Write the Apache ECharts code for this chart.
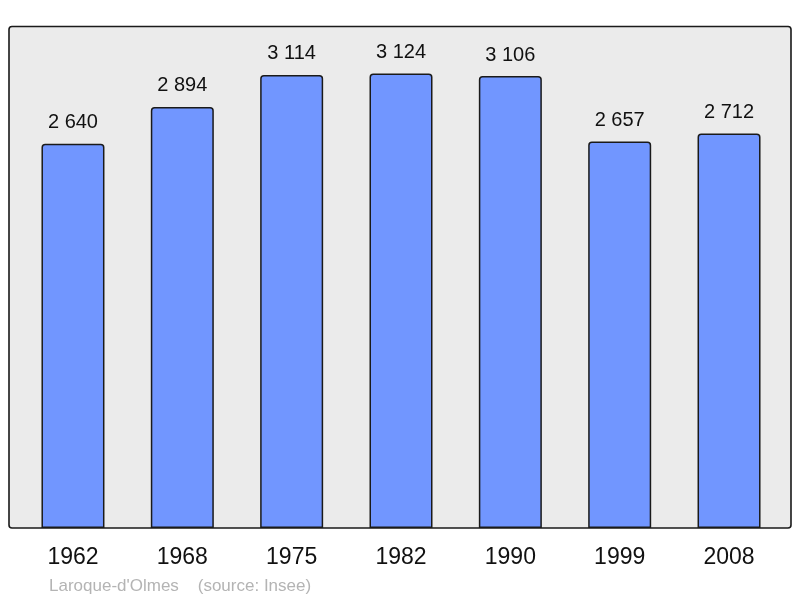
<!DOCTYPE html>
<html><head><meta charset="utf-8">
<script src="https://cdn.jsdelivr.net/npm/echarts@6/dist/echarts.min.js"></script>
<style>html,body{margin:0;padding:0;background:#fff}#c{width:800px;height:598px}</style>
</head><body><div id="c"></div>
<script>
const years = ['1962','1968','1975','1982','1990','1999','2008'];
const population = [2640, 2894, 3114, 3124, 3106, 2657, 2712];
const footer = "Laroque-d'Olmes    (source: Insee)";

const chart = echarts.init(document.getElementById('c'), null, {renderer:'canvas'});
chart.setOption({
  animation: false,
  backgroundColor: '#ffffff',
  graphic: [
    {type:'rect', z:-10, shape:{x:9, y:26.5, width:782, height:501.5, r:3},
     style:{fill:'#ebebeb', stroke:'#1a1a1a', lineWidth:1.6}},
    {type:'text', left:49, top:577.5, style:{text:footer, font:'17px "Liberation Sans", Arial, sans-serif', fill:'#b4b4b4'}}
  ],
  grid: {left:18.3, right:16.3, top:26, bottom:70},
  xAxis: {type:'category', data:years,
    axisLine:{show:false}, axisTick:{show:false},
    axisLabel:{fontSize:23, fontFamily:'"Liberation Sans", Arial, sans-serif', color:'#111', margin:18}},
  yAxis: {type:'value', min:0, max:3450, show:false, splitLine:{show:false}},
  series: [{type:'bar', data:population, barWidth:63,
    itemStyle:{color:'#7196ff', borderColor:'#1a1a1a', borderWidth:1.5, borderRadius:[3,3,0,0]},
    label:{show:true, position:'top', distance:11, fontSize:20, fontFamily:'"Liberation Sans", Arial, sans-serif', color:'#111',
      formatter: p => String(p.value).replace(/\B(?=(\d{3})+(?!\d))/g,' ')}
  }]
});
</script></body></html>
